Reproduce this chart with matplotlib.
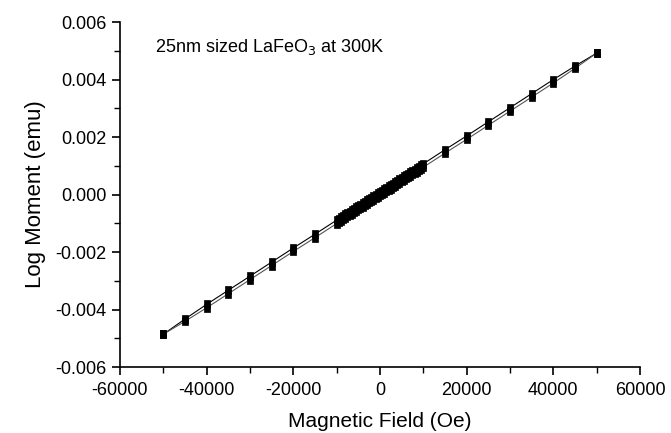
import numpy as np
import matplotlib
matplotlib.use('Agg')
import matplotlib.pyplot as plt
from matplotlib.ticker import MultipleLocator, FormatStrFormatter

plt.rcParams['font.family'] = ['Liberation Sans', 'DejaVu Sans']
plt.rcParams['axes.unicode_minus'] = False

# field values (Oe), same grid for both branches
field = [-50000, -45000, -40000, -35000, -30000, -25000, -20000, -15000,
         -10000, -9500, -9000, -8500, -8000, -7500, -7000, -6500, -6000, -5500,
         -5000, -4500, -4000, -3500, -3000, -2500, -2000, -1500, -1000, -500,
         0, 500, 1000, 1500, 2000, 2500, 3000, 3500, 4000, 4500,
         5000, 5500, 6000, 6500, 7000, 7500, 8000, 8500, 9000, 9500, 10000,
         15000, 20000, 25000, 30000, 35000, 40000, 45000, 50000]

# moment (emu) on the descending branch
moment_down = [-0.00486, -0.00433, -0.00382, -0.00333, -0.00284, -0.00235, -0.00186, -0.00138,
               -0.00089, -0.00084, -0.00079, -0.00074, -0.00069, -0.00064, -0.00059, -0.00055, -0.00050, -0.00045,
               -0.00040, -0.00035, -0.00030, -0.00025, -0.00020, -0.00015, -0.00011, -0.00006, -0.00001, 0.00004,
               0.00009, 0.00014, 0.00019, 0.00024, 0.00029, 0.00033, 0.00038, 0.00043, 0.00048, 0.00053,
               0.00058, 0.00063, 0.00068, 0.00073, 0.00077, 0.00082, 0.00087, 0.00092, 0.00097, 0.00102, 0.00107,
               0.00156, 0.00204, 0.00253, 0.00302, 0.00351, 0.00400, 0.00447, 0.00492]

# moment (emu) on the ascending branch
moment_up = [-0.00486, -0.00441, -0.00394, -0.00345, -0.00296, -0.00247, -0.00198, -0.00150,
             -0.00101, -0.00096, -0.00091, -0.00086, -0.00081, -0.00076, -0.00071, -0.00067, -0.00062, -0.00057,
             -0.00052, -0.00047, -0.00042, -0.00037, -0.00032, -0.00027, -0.00023, -0.00018, -0.00013, -0.00008,
             -0.00003, 0.00002, 0.00007, 0.00012, 0.00017, 0.00021, 0.00026, 0.00031, 0.00036, 0.00041,
             0.00046, 0.00051, 0.00056, 0.00061, 0.00065, 0.00070, 0.00075, 0.00080, 0.00085, 0.00090, 0.00095,
             0.00144, 0.00192, 0.00241, 0.00290, 0.00339, 0.00388, 0.00439, 0.00492]

# the squares in the original look a bit stretched vertically
rect = [(-0.62, -1), (0.62, -1), (0.62, 1), (-0.62, 1), (-0.62, -1)]

fig = plt.figure(figsize=(6.71, 4.33), dpi=100)
ax = fig.add_axes([0.1788, 0.1524, 0.775, 0.7966])

ax.plot(field[::-1], moment_down[::-1], color='black', lw=0.8,
        marker=rect, ms=6, mfc='black', mec='black', mew=0.5)
ax.plot(field, moment_up, color='#555555', lw=0.8,
        marker=rect, ms=6, mfc='black', mec='black', mew=0.5)

ax.set_xlim(-60000, 60000)
ax.set_ylim(-0.006, 0.006)
ax.xaxis.set_major_locator(MultipleLocator(20000))
ax.xaxis.set_minor_locator(MultipleLocator(10000))
ax.yaxis.set_major_locator(MultipleLocator(0.002))
ax.yaxis.set_minor_locator(MultipleLocator(0.001))
ax.yaxis.set_major_formatter(FormatStrFormatter('%.3f'))

for s in ['top', 'right']:
    ax.spines[s].set_visible(False)
for s in ['left', 'bottom']:
    ax.spines[s].set_linewidth(1.2)

ax.tick_params(which='major', direction='out', length=6, width=1.2, labelsize=13)
ax.tick_params(axis='x', which='major', pad=5)
ax.tick_params(which='minor', direction='out', length=4, width=1.0)

ax.set_xlabel('Magnetic Field (Oe)', fontsize=15, labelpad=9)
ax.set_ylabel('Log Moment (emu)', fontsize=16, labelpad=7)

ax.text(-51900, 0.00513, '25nm sized LaFeO$_3$ at 300K', fontsize=13, va='center')

fig.savefig('out.png', dpi=100)
